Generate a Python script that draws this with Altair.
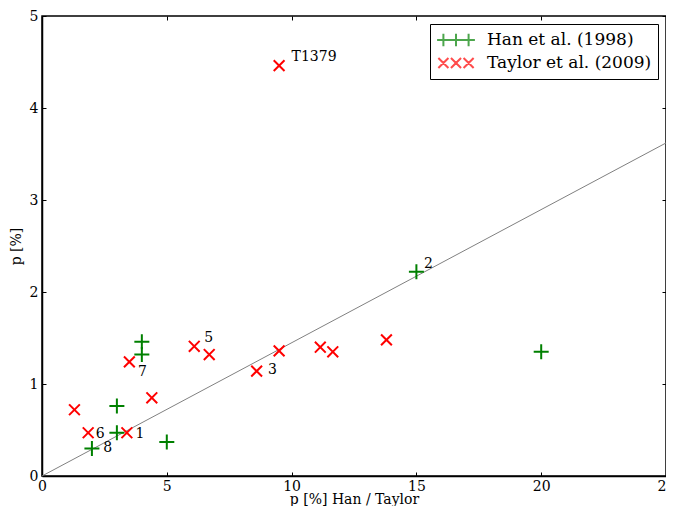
import altair as alt
import pandas as pd

# --- data ---
han_x = [15, 20, 4, 4, 3, 3, 5, 2]
han_y = [2.22, 1.35, 1.46, 1.32, 0.76, 0.47, 0.37, 0.30]

taylor_x = [9.5, 1.3, 1.85, 3.4, 3.5, 4.4, 6.1, 6.7, 8.6, 9.5, 11.15, 11.65, 13.8]
taylor_y = [4.46, 0.72, 0.47, 0.47, 1.24, 0.85, 1.41, 1.32, 1.14, 1.36, 1.40, 1.35, 1.48]

line_x = [0, 25]
line_y = [0, 3.62]

label_text = ["T1379", "2", "5", "7", "3", "6", "1", "8"]
label_x = [10.0, 15.3, 6.5, 3.85, 9.05, 2.15, 3.75, 2.45]
label_y = [4.55, 2.30, 1.50, 1.13, 1.15, 0.46, 0.46, 0.30]

series_names = ["Han et al. (1998)", "Taylor et al. (2009)"]

pts = pd.DataFrame({
    "x": han_x + taylor_x,
    "y": han_y + taylor_y,
    "series": [series_names[0]] * len(han_x) + [series_names[1]] * len(taylor_x),
})
lines = pd.DataFrame({"x": line_x, "y": line_y})
labels = pd.DataFrame({"x": label_x, "y": label_y, "t": label_text})

W, H = 624, 460
FONT = "DejaVu Serif"
COLORS = ["#008000", "#ff0000"]

PLUS = "M-1,0H1M0,-1V1"
CROSS = "M-0.72,-0.72L0.72,0.72M-0.72,0.72L0.72,-0.72"


def plus3():
    h = 1 / 3
    s = "M-1,0H1"
    for c in (-2 / 3, 0, 2 / 3):
        s += f"M{c:.4f},{-h:.4f}V{h:.4f}"
    return s


def cross3():
    d = 0.8 / 3
    s = ""
    for c in (-2 / 3, 0, 2 / 3):
        s += f"M{c - d:.4f},{-d:.4f}L{c + d:.4f},{d:.4f}M{c - d:.4f},{d:.4f}L{c + d:.4f},{-d:.4f}"
    return s


xs = alt.Scale(domain=[0, 25], nice=False, zero=False)
ys = alt.Scale(domain=[0, 5], nice=False, zero=False)

xvals = [0, 5, 10, 15, 20, 25]
yvals = [0, 1, 2, 3, 4, 5]


def inner_axis(orient, offset, vals):
    return alt.Axis(orient=orient, offset=offset, labels=False, domain=False, grid=False,
                    title=None, ticks=True, tickSize=4, tickColor="black", tickWidth=1,
                    values=vals)


points = alt.Chart(pts).mark_point(filled=False, strokeWidth=2, size=225, opacity=1).encode(
    x=alt.X("x:Q", scale=xs, axis=alt.Axis(
        orient="bottom", title="p [%] Han  / Taylor", values=xvals, format="d",
        ticks=False, tickSize=0, labelPadding=14, labelBaseline="alphabetic",
        grid=False, domainColor="black", domainWidth=1.5,
        labelFont=FONT, labelFontSize=14, labelColor="black",
        titleFont=FONT, titleFontSize=14, titleFontWeight="normal", titleColor="black",
        titleBaseline="alphabetic", titleY=27, labelFlush=False)),
    y=alt.Y("y:Q", scale=ys, axis=alt.Axis(
        orient="left", title="p [%]", values=yvals, format="d",
        ticks=False, tickSize=0, labelPadding=4, grid=False, domainColor="black",
        domainWidth=1.5, labelFont=FONT, labelFontSize=14, labelColor="black",
        titleFont=FONT, titleFontSize=14, titleFontWeight="normal", titleColor="black",
        titlePadding=6, labelFlush=False)),
    color=alt.Color("series:N", scale=alt.Scale(domain=series_names, range=COLORS), legend=None),
    shape=alt.Shape("series:N", scale=alt.Scale(domain=series_names, range=[PLUS, CROSS]),
                    legend=None),
)

legend_layer = alt.Chart(pts).transform_filter("datum.x > 1000").mark_point(
    filled=False, strokeWidth=2).encode(
    x=alt.X("x:Q", scale=xs, axis=None),
    y=alt.Y("y:Q", scale=ys, axis=None),
    color=alt.Color("series:N", scale=alt.Scale(domain=series_names, range=COLORS),
                    legend=alt.Legend(title=None, orient="top-right", offset=8)),
    shape=alt.Shape("series:N", scale=alt.Scale(domain=series_names, range=[plus3(), cross3()]),
                    legend=alt.Legend(title=None, orient="top-right", offset=8)),
)

line = alt.Chart(lines).mark_line(color="#808080", strokeWidth=1).encode(
    x=alt.X("x:Q", scale=xs, axis=inner_axis("top", -H, xvals)),
    y=alt.Y("y:Q", scale=ys, axis=inner_axis("right", -W, yvals)),
)

text = alt.Chart(labels).mark_text(align="left", baseline="middle", font=FONT,
                                   fontSize=14, color="black").encode(
    x=alt.X("x:Q", scale=xs, axis=inner_axis("bottom", -H, xvals)),
    y=alt.Y("y:Q", scale=ys, axis=inner_axis("left", -W, yvals)),
    text="t:N",
)

chart = alt.layer(line, points, text, legend_layer).resolve_axis(
    x="independent", y="independent"
).resolve_scale(color="independent", shape="independent").properties(
    width=W, height=H, autosize=alt.AutoSizeParams(type="none"),
    padding={"left": 34, "top": 8, "right": 0, "bottom": 30},
).configure_view(stroke="black", strokeWidth=1.5).configure_legend(
    strokeColor="black", fillColor="white", padding=6, cornerRadius=0,
    labelFont=FONT, labelFontSize=17, labelColor="black", symbolSize=1429,
    symbolStrokeWidth=2, rowPadding=3, labelOffset=11, clipHeight=20,
    labelLimit=400,
)

chart.save("out.html", embed_options={"renderer": "svg", "actions": False})
